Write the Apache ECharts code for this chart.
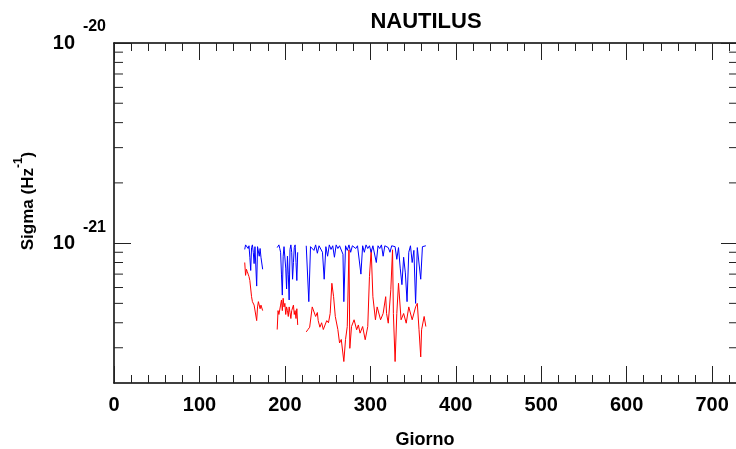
<!DOCTYPE html>
<html>
<head>
<meta charset="utf-8">
<script src="https://cdn.jsdelivr.net/npm/echarts@6/dist/echarts.min.js"></script>
<style>html,body{margin:0;padding:0;background:#fff}#c{width:736px;height:449px}</style>
</head>
<body>
<div id="c"></div>
<script>
// ---- data ----
const titleText = 'NAUTILUS';
const xName = 'Giorno';
const xMin = 0, xMax = 728;
const yMin = 2e-22, yMax = 1e-20;
const xMajorStep = 100, xMinorStep = 20;
const yMinorTicks = [3e-22,4e-22,5e-22,6e-22,7e-22,8e-22,9e-22,2e-21,3e-21,4e-21,5e-21,6e-21,7e-21,8e-21,9e-21];

const blueDays = [153,154,155,156,157,158,159,160,161,162,163,164,165,166,167,168,169,170,171,172,173,174,
  180,
  191,192,193,194,195,196,197,198,199,200,201,202,203,204,205,206,207,208,209,210,211,212,213,214,215,
  220,
  225,227,228,230,232,234,236,238,240,242,244,246,248,250,252,254,256,258,260,262,264,266,268,269,271,273,275,277,279,281,283,285,287,289,291,293,295,297,299,301,303,305,307,309,311,313,315,317,319,321,323,325,327,329,331,333,335,337,339,341,343,345,347,349,351,353,355,357,359,361,363,365];
const blueVals = [9.3e-22,9.8e-22,9.7e-22,9.8e-22,9.4e-22,9.7e-22,8.5e-22,7.3e-22,9.5e-22,9.8e-22,9.0e-22,7.9e-22,9.6e-22,9.7e-22,6.1e-22,9.6e-22,9.8e-22,8.6e-22,9.4e-22,8.5e-22,8.4e-22,7.4e-22,
  null,
  9.5e-22,9.7e-22,9.8e-22,9.4e-22,9.0e-22,7.0e-22,5.5e-22,8.6e-22,9.6e-22,9.8e-22,7.5e-22,5.9e-22,8.6e-22,7.0e-22,5.2e-22,9.3e-22,9.8e-22,9.0e-22,6.6e-22,8.0e-22,9.5e-22,9.8e-22,8.0e-22,6.5e-22,9.0e-22,
  null,
  9.7e-22,9.5e-22,5.1e-22,9.6e-22,9.8e-22,9.2e-22,9.8e-22,8.9e-22,9.7e-22,9.5e-22,9.0e-22,6.6e-22,9.6e-22,8.6e-22,9.8e-22,9.3e-22,9.7e-22,8.5e-22,9.8e-22,9.4e-22,9.7e-22,9.6e-22,8.8e-22,5.1e-22,9.7e-22,9.2e-22,9.8e-22,9.0e-22,9.7e-22,9.8e-22,9.4e-22,9.7e-22,9.5e-22,7.0e-22,9.7e-22,9.0e-22,9.8e-22,9.4e-22,9.7e-22,9.0e-22,9.7e-22,9.8e-22,8.0e-22,9.7e-22,9.4e-22,9.8e-22,8.6e-22,9.7e-22,9.8e-22,9.5e-22,9.0e-22,9.7e-22,9.8e-22,9.6e-22,8.3e-22,9.5e-22,7.5e-22,6.2e-22,8.5e-22,7.1e-22,5.1e-22,9.0e-22,9.7e-22,8.0e-22,9.2e-22,5.0e-22,9.5e-22,9.7e-22,6.6e-22,9.6e-22,9.5e-22,9.7e-22];

const redDays = [153,154,155,156,157,158,159,160,161,162,163,164,165,166,167,168,169,170,171,172,173,174,
  180,
  191,192,193,194,195,196,197,198,199,200,201,202,203,204,205,206,207,208,209,210,211,212,213,214,215,
  220,
  225,227,229,232,234,236,238,239,241,243,245,247,249,251,253,255,257,259,262,264,266,269,271,273,275,276,278,281,284,286,288,291,294,297,299,301,303,306,308,312,315,318,319,321,324,326,327,329,331,333,336,339,342,345,349,353,355,357,359,360,363,365];
const redVals = [8.0e-22,6.9e-22,7.4e-22,7.2e-22,7.0e-22,6.8e-22,6.5e-22,6.6e-22,5.4e-22,5.1e-22,5.2e-22,4.9e-22,5.0e-22,4.8e-22,4.1e-22,4.8e-22,5.1e-22,5.0e-22,4.7e-22,4.9e-22,4.8e-22,4.6e-22,
  null,
  3.7e-22,4.6e-22,4.4e-22,4.5e-22,4.9e-22,5.2e-22,4.6e-22,5.3e-22,4.8e-22,5.0e-22,4.4e-22,4.8e-22,4.6e-22,4.3e-22,4.8e-22,4.5e-22,4.2e-22,4.6e-22,4.7e-22,4.9e-22,4.4e-22,4.6e-22,4.2e-22,4.7e-22,3.9e-22,
  null,
  3.6e-22,3.7e-22,3.8e-22,4.8e-22,4.9e-22,4.3e-22,4.5e-22,4.1e-22,3.8e-22,4.0e-22,3.7e-22,3.9e-22,4.1e-22,4.0e-22,4.45e-22,6.3e-22,5.4e-22,4.3e-22,3.7e-22,3.17e-22,3.3e-22,2.56e-22,3.3e-22,3.83e-22,9.26e-22,2.98e-22,3.83e-22,4.14e-22,3.69e-22,3.9e-22,3.55e-22,3.83e-22,3.29e-22,3.83e-22,6.8e-22,9.26e-22,5.4e-22,4.14e-22,4.8e-22,4.14e-22,4.45e-22,5.4e-22,4.45e-22,3.98e-22,5.85e-22,9.26e-22,4.45e-22,2.56e-22,4.45e-22,6.3e-22,4.14e-22,4.45e-22,3.98e-22,4.8e-22,4.14e-22,4.8e-22,5.0e-22,3.69e-22,2.7e-22,3.69e-22,4.3e-22,3.83e-22];

// ---- chart ----
const FONT = 'Liberation Sans';
const chart = echarts.init(document.getElementById('c'), null, {renderer: 'canvas'});
const isPow10 = v => Math.abs(Math.log10(v) - Math.round(Math.log10(v))) < 1e-6;
const zip = (a, b) => a.map((d, i) => [d, b[i] === null ? '-' : b[i]]);

const xAxisBase = {type: 'value', min: xMin, max: xMax, splitLine: {show: false}};
const yAxisBase = {type: 'log', logBase: 10, min: yMin, max: yMax, splitLine: {show: false}};

chart.setOption({
  animation: false,
  backgroundColor: '#fff',
  title: {
    text: titleText, left: 421, top: 6, textAlign: 'center',
    textStyle: {fontFamily: FONT, fontSize: 22, fontWeight: 'bold', color: '#000'}
  },
  grid: {left: 114, top: 43, right: 0, bottom: 66, containLabel: false, outerBoundsMode: 'none'},
  xAxis: [
    Object.assign({}, xAxisBase, {
      position: 'bottom', interval: xMajorStep,
      axisLine: {show: true, onZero: false, lineStyle: {color: '#000', width: 1.5}},
      axisTick: {show: true, inside: true, length: 17, lineStyle: {color: '#222', width: 1}},
      axisLabel: {show: true, margin: 12, fontFamily: FONT, fontSize: 20, fontWeight: 'bold', color: '#000',
        formatter: v => (v % xMajorStep === 0 ? String(v) : '')},
      name: xName, nameLocation: 'middle', nameGap: 48, nameMoveOverlap: false,
      nameTextStyle: {fontFamily: FONT, fontSize: 18, fontWeight: 'bold', color: '#000'}
    }),
    Object.assign({}, xAxisBase, {
      position: 'bottom', interval: xMinorStep,
      axisLine: {show: false, onZero: false},
      axisTick: {show: true, inside: true, length: 8, lineStyle: {color: '#222', width: 1}},
      axisLabel: {show: false}
    }),
    Object.assign({}, xAxisBase, {
      position: 'top', interval: xMajorStep,
      axisLine: {show: true, onZero: false, lineStyle: {color: '#000', width: 1.5}},
      axisTick: {show: true, inside: true, length: 17, lineStyle: {color: '#222', width: 1}},
      axisLabel: {show: false}
    }),
    Object.assign({}, xAxisBase, {
      position: 'top', interval: xMinorStep,
      axisLine: {show: false, onZero: false},
      axisTick: {show: true, inside: true, length: 8, lineStyle: {color: '#222', width: 1}},
      axisLabel: {show: false}
    })
  ],
  yAxis: [
    Object.assign({}, yAxisBase, {
      position: 'left',
      axisLine: {show: true, onZero: false, lineStyle: {color: '#000', width: 1.5}},
      axisTick: {show: true, inside: true, length: 17, lineStyle: {color: '#222', width: 1}},
      axisLabel: {show: true, margin: 39, fontFamily: FONT, fontSize: 20, fontWeight: 'bold', color: '#000',
        formatter: v => (isPow10(v) ? '10' : '')},
      name: '{a|Sigma (Hz}{s|-1}{a|)}', nameLocation: 'middle', nameGap: 71, nameRotate: 90,
      nameMoveOverlap: false,
      nameTextStyle: {
        color: '#000', padding: [0, 0, 0, 24],
        rich: {
          a: {fontFamily: FONT, fontSize: 17, fontWeight: 'bold', color: '#000', lineHeight: 30, verticalAlign: 'middle'},
          s: {fontFamily: FONT, fontSize: 12, fontWeight: 'bold', color: '#000', lineHeight: 8, verticalAlign: 'top'}
        }
      }
    }),
    Object.assign({}, yAxisBase, {
      position: 'left',
      axisLine: {show: false, onZero: false},
      axisTick: {show: false},
      axisLabel: {show: true, margin: 8, verticalAlign: 'bottom', lineHeight: 32, fontFamily: FONT, fontSize: 16, fontWeight: 'bold', color: '#000',
        formatter: v => (isPow10(v) ? String(Math.round(Math.log10(v))) : '')}
    }),
    Object.assign({}, yAxisBase, {
      position: 'right',
      axisLine: {show: false, onZero: false},
      axisTick: {show: true, inside: true, length: 15, lineStyle: {color: '#222', width: 1}},
      axisLabel: {show: false}
    })
  ],
  series: [
    {
      type: 'line', name: 'sigma1', xAxisIndex: 0, yAxisIndex: 0,
      data: zip(blueDays, blueVals), showSymbol: false, symbol: 'none', connectNulls: false,
      lineStyle: {color: '#0000ff', width: 1}, itemStyle: {color: '#0000ff'}, z: 3
    },
    {
      type: 'line', name: 'sigma2', xAxisIndex: 0, yAxisIndex: 0,
      data: zip(redDays, redVals), showSymbol: false, symbol: 'none', connectNulls: false,
      lineStyle: {color: '#ff0000', width: 1}, itemStyle: {color: '#ff0000'}, z: 2
    },
    {
      type: 'custom', name: 'yMinorTicks', xAxisIndex: 0, yAxisIndex: 0, clip: false, silent: true,
      data: yMinorTicks.map(v => [xMin, v]),
      encode: {x: 0, y: 1},
      renderItem: function (params, api) {
        const v = api.value(1);
        const pl = api.coord([xMin, v]);
        const pr = api.coord([xMax, v]);
        const st = {stroke: '#222', lineWidth: 1};
        return {type: 'group', children: [
          {type: 'line', shape: {x1: pl[0], y1: pl[1], x2: pl[0] + 9, y2: pl[1]}, style: st},
          {type: 'line', shape: {x1: pr[0] - 7, y1: pr[1], x2: pr[0], y2: pr[1]}, style: st}
        ]};
      }
    }
  ]
});
</script>
</body>
</html>
